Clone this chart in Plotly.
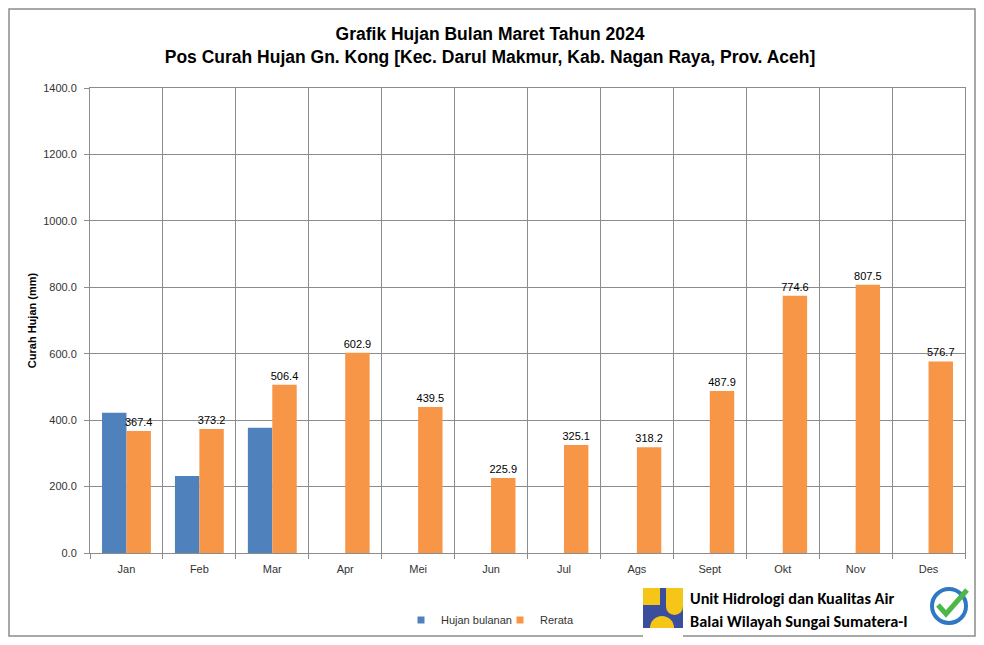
import plotly.graph_objects as go

months = ["Jan", "Feb", "Mar", "Apr", "Mei", "Jun", "Jul", "Ags", "Sept", "Okt", "Nov", "Des"]
hujan_bulanan = [422.0, 232.0, 377.0, None, None, None, None, None, None, None, None, None]
rerata = [367.4, 373.2, 506.4, 602.9, 439.5, 225.9, 325.1, 318.2, 487.9, 774.6, 807.5, 576.7]
y_ticks = [0, 200, 400, 600, 800, 1000, 1200, 1400]

# page body has an 8px margin; figure coords = screen coords - OFF
OFF = 8
W, H = 968, 629
L, R, T, B = 90 - OFF, 965 - OFF, 88 - OFF, 553 - OFF

def px(x):
    return (x - OFF - L) / (R - L)

def py(y):
    return (B - (y - OFF)) / (B - T)

xs = list(range(len(months)))
BLUE, ORANGE = "#4F81BD", "#F79646"

fig = go.Figure()
fig.add_trace(go.Bar(x=xs, y=hujan_bulanan, name="Hujan bulanan", showlegend=False,
                     marker=dict(color=BLUE, line=dict(width=0))))
fig.add_trace(go.Bar(x=xs, y=rerata, name="Rerata", showlegend=False,
                     marker=dict(color=ORANGE, line=dict(width=0)),
                     text=[f"{v:.1f}" for v in rerata], textposition="outside",
                     constraintext="none",
                     textfont=dict(size=11, color="#000000", family="Liberation Sans, Arial"),
                     cliponaxis=False))
# legend entries with small square symbols
fig.add_trace(go.Scatter(x=[None], y=[None], mode="markers", name="Hujan bulanan", legend="legend",
                         marker=dict(symbol="square", size=7, color=BLUE)))
fig.add_trace(go.Scatter(x=[None], y=[None], mode="markers", name="Rerata", legend="legend2",
                         marker=dict(symbol="square", size=7, color=ORANGE)))

shapes = []
# outer border
shapes.append(dict(type="rect", xref="paper", yref="paper",
                   x0=px(9), x1=px(975), y0=py(9), y1=py(636),
                   line=dict(color="#8C8C8C", width=1.5), fillcolor="rgba(0,0,0,0)", layer="below"))
# PU logo approximation
lx0, ly0 = 643, 588
Y = "#F5C518"
shapes.append(dict(type="rect", xref="paper", yref="paper",
                   x0=px(lx0), x1=px(lx0 + 40), y0=py(ly0), y1=py(ly0 + 40),
                   line=dict(width=0), fillcolor="#3B4E9E"))
shapes.append(dict(type="rect", xref="paper", yref="paper",
                   x0=px(lx0), x1=px(lx0 + 17), y0=py(ly0), y1=py(ly0 + 17),
                   line=dict(width=0), fillcolor=Y))
shapes.append(dict(type="rect", xref="paper", yref="paper",
                   x0=px(lx0 + 23), x1=px(lx0 + 40), y0=py(ly0), y1=py(ly0 + 18),
                   line=dict(width=0), fillcolor=Y))
shapes.append(dict(type="circle", xref="paper", yref="paper",
                   x0=px(lx0 + 23), x1=px(lx0 + 40), y0=py(ly0 + 10), y1=py(ly0 + 27),
                   line=dict(width=0), fillcolor=Y))
shapes.append(dict(type="circle", xref="paper", yref="paper",
                   x0=px(lx0 + 7), x1=px(lx0 + 31), y0=py(ly0 + 28), y1=py(ly0 + 52),
                   line=dict(width=0), fillcolor=Y))
shapes.append(dict(type="rect", xref="paper", yref="paper",
                   x0=px(lx0), x1=px(lx0 + 40), y0=py(ly0 + 40), y1=py(ly0 + 53),
                   line=dict(width=0), fillcolor="#FFFFFF"))
# ISO logo approximation
shapes.append(dict(type="circle", xref="paper", yref="paper",
                   x0=px(932), x1=px(966), y0=py(589), y1=py(623),
                   line=dict(color="#2F78C4", width=4), fillcolor="#FFFFFF"))
shapes.append(dict(type="path", xref="paper", yref="paper",
                   path=f"M {px(938)},{py(605)} L {px(946)},{py(614)} L {px(967)},{py(590)}",
                   line=dict(color="#4CB847", width=5)))

annotations = [
    dict(text="<b>Unit Hidrologi dan Kualitas Air</b>", xref="paper", yref="paper",
         x=px(688), y=py(598), xanchor="left", yanchor="middle", showarrow=False,
         font=dict(size=16.3, color="#000000", family="Carlito, Noto Sans, Open Sans")),
    dict(text="<b>Balai Wilayah Sungai Sumatera-I</b>", xref="paper", yref="paper",
         x=px(688), y=py(621), xanchor="left", yanchor="middle", showarrow=False,
         font=dict(size=16.3, color="#000000", family="Carlito, Noto Sans, Open Sans")),
]

legend_style = dict(orientation="h", yanchor="middle", xanchor="left",
                    font=dict(size=11, color="#333333", family="Liberation Sans, Arial"),
                    itemwidth=30, bgcolor="rgba(0,0,0,0)")

fig.update_layout(
    width=W, height=H,
    margin=dict(l=L, r=W - R, t=T, b=H - B, autoexpand=False),
    paper_bgcolor="#FFFFFF", plot_bgcolor="#FFFFFF",
    title=dict(text="<b>Grafik Hujan Bulan Maret Tahun 2024<br>Pos Curah Hujan Gn. Kong [Kec. Darul Makmur, Kab. Nagan Raya, Prov. Aceh]</b>",
               x=px(490), xanchor="center", xref="paper", y=1 - (40 - OFF) / H, yanchor="middle", yref="container",
               font=dict(size=17.5, color="#000000", family="Liberation Sans Narrow, Arial Narrow, Liberation Sans")),
    barmode="group", bargap=0.33, bargroupgap=0.0,
    xaxis=dict(tickvals=xs, ticktext=months, range=[-0.5, 11.5], showgrid=False,
               ticks="", showline=True, linecolor="#8C8C8C", linewidth=1, mirror=True,
               ticklabelstandoff=6,
               tickfont=dict(size=11, color="#333333", family="Liberation Sans, Arial"),
               minor=dict(tickvals=[i - 0.5 for i in range(13)], showgrid=True,
                          gridcolor="#8C8C8C", gridwidth=1, ticks="outside", ticklen=5, tickcolor="#8C8C8C")),
    yaxis=dict(range=[0, 1400], tickvals=y_ticks, tickformat=".1f", showgrid=True,
               gridcolor="#8C8C8C", gridwidth=1, zeroline=False,
               showline=True, linecolor="#8C8C8C", linewidth=1, mirror=True,
               ticks="outside", ticklen=5, tickcolor="#8C8C8C", ticklabelstandoff=5,
               tickfont=dict(size=11, color="#333333", family="Liberation Sans, Arial"),
               title=dict(text="<b>Curah Hujan (mm)</b>", standoff=4,
                          font=dict(size=11, color="#000000", family="Liberation Sans, Arial"))),
    legend=dict(x=px(401), y=py(620), **legend_style),
    legend2=dict(x=px(500), y=py(620), **legend_style),
    shapes=shapes, annotations=annotations,
)

fig.write_html("out.html")
